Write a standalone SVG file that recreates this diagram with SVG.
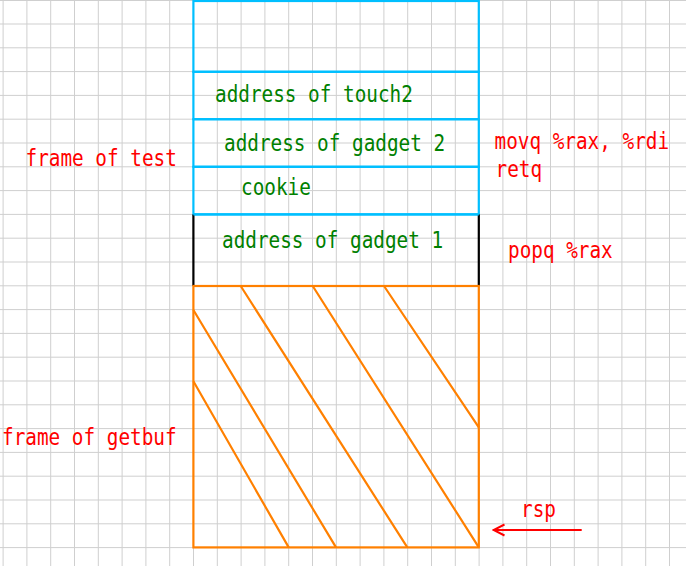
<svg xmlns="http://www.w3.org/2000/svg" width="686" height="566" viewBox="0 0 686 566">
<style>
.grid line{stroke:#cfcfcf;stroke-width:1}
.t{font-family:"DejaVu Sans Mono","Liberation Mono",monospace;font-size:19.35px}
.g{fill:#008000}
.r{fill:#ff0000}
.blue{fill:none;stroke:#00bfff;stroke-width:2.2}
.blk{fill:none;stroke:#000000;stroke-width:2.2}
.org{fill:none;stroke:#ff8000;stroke-width:2.2}
</style>
<defs>
<marker id="ah" markerWidth="14" markerHeight="14" refX="12" refY="7" orient="auto" markerUnits="userSpaceOnUse">
<path d="M1,1.5 L12,7 L1,12.5" fill="none" stroke="#ff0000" stroke-width="2"/>
</marker>
</defs>
<rect width="686" height="566" fill="#ffffff"/>
<g class="grid">
<line x1="3.1" y1="0" x2="3.1" y2="566"/><line x1="26.9" y1="0" x2="26.9" y2="566"/><line x1="50.7" y1="0" x2="50.7" y2="566"/><line x1="74.5" y1="0" x2="74.5" y2="566"/><line x1="98.3" y1="0" x2="98.3" y2="566"/><line x1="122.1" y1="0" x2="122.1" y2="566"/><line x1="145.9" y1="0" x2="145.9" y2="566"/><line x1="169.7" y1="0" x2="169.7" y2="566"/><line x1="193.5" y1="0" x2="193.5" y2="566"/><line x1="217.3" y1="0" x2="217.3" y2="566"/><line x1="241.1" y1="0" x2="241.1" y2="566"/><line x1="264.9" y1="0" x2="264.9" y2="566"/><line x1="288.7" y1="0" x2="288.7" y2="566"/><line x1="312.5" y1="0" x2="312.5" y2="566"/><line x1="336.3" y1="0" x2="336.3" y2="566"/><line x1="360.1" y1="0" x2="360.1" y2="566"/><line x1="383.9" y1="0" x2="383.9" y2="566"/><line x1="407.7" y1="0" x2="407.7" y2="566"/><line x1="431.5" y1="0" x2="431.5" y2="566"/><line x1="455.3" y1="0" x2="455.3" y2="566"/><line x1="479.1" y1="0" x2="479.1" y2="566"/><line x1="502.9" y1="0" x2="502.9" y2="566"/><line x1="526.7" y1="0" x2="526.7" y2="566"/><line x1="550.5" y1="0" x2="550.5" y2="566"/><line x1="574.3" y1="0" x2="574.3" y2="566"/><line x1="598.1" y1="0" x2="598.1" y2="566"/><line x1="621.9" y1="0" x2="621.9" y2="566"/><line x1="645.7" y1="0" x2="645.7" y2="566"/><line x1="669.5" y1="0" x2="669.5" y2="566"/>
<line x1="0" y1="0.5" x2="686" y2="0.5"/><line x1="0" y1="24" x2="686" y2="24"/><line x1="0" y1="47.8" x2="686" y2="47.8"/><line x1="0" y1="71.6" x2="686" y2="71.6"/><line x1="0" y1="95.4" x2="686" y2="95.4"/><line x1="0" y1="119.2" x2="686" y2="119.2"/><line x1="0" y1="143" x2="686" y2="143"/><line x1="0" y1="166.8" x2="686" y2="166.8"/><line x1="0" y1="190.6" x2="686" y2="190.6"/><line x1="0" y1="214.4" x2="686" y2="214.4"/><line x1="0" y1="238.2" x2="686" y2="238.2"/><line x1="0" y1="262" x2="686" y2="262"/><line x1="0" y1="285.8" x2="686" y2="285.8"/><line x1="0" y1="309.6" x2="686" y2="309.6"/><line x1="0" y1="333.4" x2="686" y2="333.4"/><line x1="0" y1="357.2" x2="686" y2="357.2"/><line x1="0" y1="381" x2="686" y2="381"/><line x1="0" y1="404.8" x2="686" y2="404.8"/><line x1="0" y1="428.6" x2="686" y2="428.6"/><line x1="0" y1="452.4" x2="686" y2="452.4"/><line x1="0" y1="476.2" x2="686" y2="476.2"/><line x1="0" y1="500" x2="686" y2="500"/><line x1="0" y1="523.8" x2="686" y2="523.8"/><line x1="0" y1="547.6" x2="686" y2="547.6"/>
</g>
<g id="node-top">
<rect class="blue" x="193.4" y="1" width="285.4" height="70.8"/>
</g>
<g id="node-touch2">
<rect class="blue" x="193.4" y="71.8" width="285.4" height="47.4"/>
<text class="t g" transform="translate(215,101.7) scale(1,1.19)">address of touch2</text>
</g>
<g id="node-gadget2">
<rect class="blue" x="193.4" y="119.2" width="285.4" height="47.6"/>
<text class="t g" transform="translate(224,150.7) scale(1,1.19)">address of gadget 2</text>
</g>
<g id="node-cookie">
<rect class="blue" x="193.4" y="166.8" width="285.4" height="47.6"/>
<text class="t g" transform="translate(241,195) scale(1,1.19)">cookie</text>
</g>
<g id="node-gadget1">
<path class="blk" d="M193.4,214.4 V286 M478.8,214.4 V286"/>
<line class="blue" x1="193.4" y1="214.4" x2="478.8" y2="214.4"/>
<text class="t g" transform="translate(222,248.3) scale(1,1.19)">address of gadget 1</text>
</g>
<g id="node-getbuf">
<rect class="org" x="193.4" y="286" width="285.4" height="261.4"/>
<path class="org" d="M193.4,381.3 L288.7,547.4 M193.4,310 L336,547.4 M240.7,286 L407.3,547.4 M312.7,286 L478.8,547.4 M384,286 L478.8,427.3"/>
</g>
<g id="labels">
<text class="t r" transform="translate(25.5,165.7) scale(1,1.19)">frame of test</text>
<text class="t r" transform="translate(494.5,149.3) scale(1,1.19)">movq %rax, %rdi</text>
<text class="t r" transform="translate(495.5,176.7) scale(1,1.19)">retq</text>
<text class="t r" transform="translate(508,257.7) scale(1,1.19)">popq %rax</text>
<text class="t r" transform="translate(2,445) scale(1,1.19)">frame of getbuf</text>
<text class="t r" transform="translate(521,516.7) scale(1,1.19)">rsp</text>
</g>
<g id="connectors">
<line x1="581.7" y1="530" x2="493.5" y2="530" stroke="#ff0000" stroke-width="2" marker-end="url(#ah)"/>
</g>
</svg>
